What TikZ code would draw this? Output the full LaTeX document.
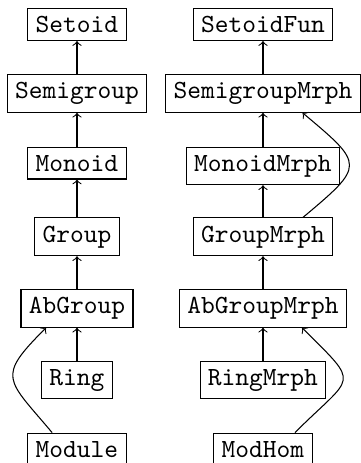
\documentclass[tikz,border=0pt]{standalone}
\tikzset{
  cat/.style={draw, font=\ttfamily, inner sep=3pt, anchor=base},
  up/.style={->}
}
\begin{document}
\begin{tikzpicture}[x=0.3818pt, y=0.3818pt]
\useasboundingbox (0,0) rectangle (360,463);

% structures
\node[cat] (setoid) at (77,430.6) {Setoid};
\node[cat] (semi)   at (77,364.6) {Semigroup};
\node[cat] (mon)    at (77,292)   {Monoid};
\node[cat] (grp)    at (77,221)   {Group};
\node[cat] (abg)    at (77,149.5) {AbGroup};
\node[cat] (ring)   at (77,78)    {Ring};
\node[cat] (mod)    at (77,6)     {Module};

% morphisms
\node[cat] (sfun)  at (263,430.6) {SetoidFun};
\node[cat] (semim) at (263,364.6) {SemigroupMrph};
\node[cat] (monm)  at (263,292)   {MonoidMrph};
\node[cat] (grpm)  at (263,221)   {GroupMrph};
\node[cat] (abgm)  at (263,149.5) {AbGroupMrph};
\node[cat] (ringm) at (263,78)    {RingMrph};
\node[cat] (mh)    at (263,6)     {ModHom};

% inheritance chain, left column
\draw[up] (semi) -- (setoid);
\draw[up] (mon) -- (semi);
\draw[up] (grp) -- (mon);
\draw[up] (abg) -- (grp);
\draw[up] (ring) -- (abg);
\draw[up] ([xshift=-9.5pt]mod.north) .. controls +(130:71) and +(225:71) .. ([xshift=-11.8pt]abg.south);

% inheritance chain, right column
\draw[up] (semim) -- (sfun);
\draw[up] (monm) -- (semim);
\draw[up] (grpm) -- (monm);
\draw[up] (abgm) -- (grpm);
\draw[up] (ringm) -- (abgm);
\draw[up] ([xshift=15.3pt]grpm.north) .. controls +(40:81) and +(320:81) .. ([xshift=15.1pt]semim.south);
\draw[up] ([xshift=12.2pt]mh.north) .. controls +(45:84) and +(315:84) .. ([xshift=14.9pt]abgm.south);
\end{tikzpicture}
\end{document}
